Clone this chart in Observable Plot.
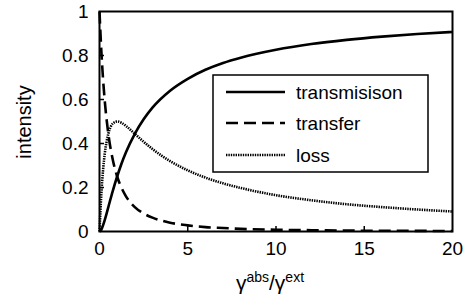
<!DOCTYPE html>
<html><head><meta charset="utf-8">
<script src="https://cdn.jsdelivr.net/npm/d3@7"></script>
<script src="https://cdn.jsdelivr.net/npm/@observablehq/plot@0.6"></script>
<style>body{margin:0;background:#fff}svg{font-family:"Liberation Sans",Arial,sans-serif}</style>
</head><body><div id="chart"></div>
<script>
const ratio =        [0, 0.1, 0.2, 0.3, 0.5, 0.75, 1, 1.25, 1.5, 2, 2.5, 3, 4, 5, 6, 7, 8, 10, 12, 14, 16, 18, 20];
const transmission = [0, 0.008, 0.028, 0.053, 0.111, 0.184, 0.25, 0.309, 0.36, 0.444, 0.51, 0.563, 0.64, 0.694, 0.735, 0.766, 0.79, 0.826, 0.852, 0.871, 0.886, 0.898, 0.907];
const transfer =     [1, 0.826, 0.694, 0.592, 0.444, 0.327, 0.25, 0.198, 0.16, 0.111, 0.082, 0.063, 0.04, 0.028, 0.02, 0.016, 0.012, 0.008, 0.006, 0.004, 0.0035, 0.003, 0.002];
const loss =         [0, 0.165, 0.278, 0.355, 0.444, 0.49, 0.5, 0.494, 0.48, 0.444, 0.408, 0.375, 0.32, 0.278, 0.245, 0.219, 0.198, 0.165, 0.142, 0.124, 0.111, 0.1, 0.091];
const seriesNames = ["transmisison", "transfer", "loss"];
const xTicks = [0, 5, 10, 15, 20];
const yTicks = [0, 0.2, 0.4, 0.6, 0.8, 1];

const pts = (vals) => ratio.map((r, i) => ({r, v: vals[i]}));
const styles = [
  {stroke: "#000", strokeWidth: 2.6, strokeLinecap: "butt"},
  {stroke: "#000", strokeWidth: 2.6, strokeDasharray: "12,6", strokeLinecap: "butt"},
  {stroke: "#000", strokeWidth: 2.6, strokeDasharray: "1.4,1", strokeLinecap: "butt"}
];

const svg = Plot.plot({
  width: 470, height: 303,
  marginLeft: 99, marginRight: 18, marginTop: 11, marginBottom: 72,
  style: {fontSize: "19px", fontFamily: "'Liberation Sans', Arial, sans-serif", color: "#000", background: "#fff"},
  x: {domain: [0, 20]},
  y: {domain: [0, 1]},
  marks: [
    Plot.line(pts(transmission), {x: "r", y: "v", curve: "monotone-x", ...styles[0]}),
    Plot.line(pts(transfer), {x: "r", y: "v", curve: "monotone-x", ...styles[1]}),
    Plot.line(pts(loss), {x: "r", y: "v", curve: "monotone-x", ...styles[2]}),
    Plot.frame({stroke: "#000", strokeWidth: 2}),
    Plot.axisY(yTicks, {tickSize: 0, tickPadding: 11, tickFormat: d3.format("~g"), label: null}),
    Plot.axisY([0.2, 0.4, 0.6, 0.8], {tickSize: 5, dx: 5, tickFormat: () => "", label: null, strokeWidth: 1.5}),
    Plot.axisX(xTicks, {tickSize: 0, tickPadding: 10, tickFormat: d3.format("~g"), label: null}),
    Plot.axisX([5, 10, 15], {tickSize: 5, dy: -5, tickFormat: () => "", label: null, strokeWidth: 1.5})
  ]
});
document.getElementById("chart").appendChild(svg);

const s = d3.select(svg);
s.append("text").attr("transform", "translate(31,122) rotate(-90)")
  .attr("text-anchor", "middle").attr("font-size", 20).text("intensity");

const xl = s.append("text").attr("x", 270).attr("y", 290).attr("text-anchor", "middle").attr("font-size", 21);
xl.append("tspan").text("γ");
xl.append("tspan").attr("dy", -8).attr("font-size", 14).text("abs");
xl.append("tspan").attr("dy", 8).text("/γ");
xl.append("tspan").attr("dy", -8).attr("font-size", 14).text("ext");

const lg = s.append("g");
lg.append("rect").attr("x", 213).attr("y", 75).attr("width", 215).attr("height", 97)
  .attr("fill", "#fff").attr("stroke", "#000").attr("stroke-width", 1.5);
const rowY = [92, 123, 155];
seriesNames.forEach((name, i) => {
  const st = styles[i];
  lg.append("line").attr("x1", 226).attr("x2", 285).attr("y1", rowY[i]).attr("y2", rowY[i])
    .attr("stroke", st.stroke).attr("stroke-width", st.strokeWidth)
    .attr("stroke-dasharray", st.strokeDasharray || null);
  lg.append("text").attr("x", 296).attr("y", rowY[i] + 7).attr("text-anchor", "start")
    .attr("font-size", 19).text(name);
});
</script></body></html>
